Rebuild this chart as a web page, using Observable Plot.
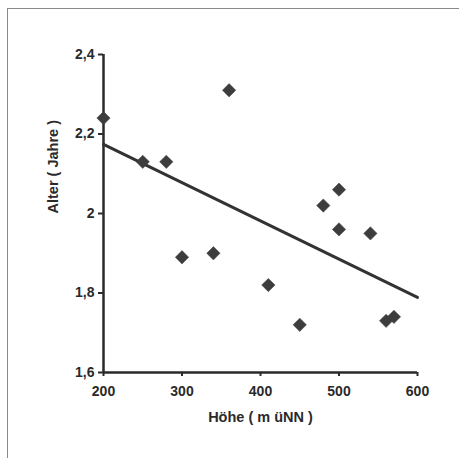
<!DOCTYPE html>
<html>
<head>
<meta charset="utf-8">
<script src="https://cdn.jsdelivr.net/npm/d3@7"></script>
<script src="https://cdn.jsdelivr.net/npm/@observablehq/plot@0.6"></script>
<style>
  html, body { margin: 0; padding: 0; background: #fff; }
  #wrap { position: relative; width: 459px; height: 458px; overflow: hidden; }
  #frame { position: absolute; left: 7px; top: 8px; width: 470px; height: 470px;
           border-top: 1.5px solid #8a8a8a; border-left: 1.5px solid #8a8a8a; }
  #chart { position: absolute; left: 0; top: 0; }
</style>
</head>
<body>
<div id="wrap"><div id="frame"></div><div id="chart"></div></div>
<script>
const hoehe = [200, 250, 280, 300, 340, 360, 410, 450, 480, 500, 500, 540, 560, 570];
const alter = [2.24, 2.13, 2.13, 1.89, 1.90, 2.31, 1.82, 1.72, 2.02, 2.06, 1.96, 1.95, 1.73, 1.74];
const trendX = [200, 600];
const trendY = [2.174, 1.789];
const xTicks = [200, 300, 400, 500, 600];
const yTicks = [1.6, 1.8, 2.0, 2.2, 2.4];
const xTitle = "Höhe ( m üNN )";
const yTitle = "Alter ( Jahre )";

const points = hoehe.map((h, i) => ({h, a: alter[i]}));
const trend = trendX.map((h, i) => ({h, a: trendY[i]}));
const fmt = d => String(d).replace(".", ",");

const chart = Plot.plot({
  width: 459,
  height: 458,
  marginLeft: 103,
  marginRight: 42,
  marginTop: 54,
  marginBottom: 86,
  style: {fontFamily: "'Liberation Sans', Arial, sans-serif", fontSize: "14px", fontWeight: "bold", color: "#2a2a2a", background: "transparent"},
  x: {domain: [200, 600], label: null},
  y: {domain: [1.6, 2.4], label: null},
  marks: [
    Plot.axisX({ticks: xTicks, tickFormat: d => String(d), tickSize: 4, tickPadding: 10, fontSize: 14, fontWeight: "bold", stroke: "#2a2a2a", strokeWidth: 2, label: null}),
    Plot.axisY({ticks: yTicks, tickFormat: fmt, tickSize: 5, tickPadding: 4, fontSize: 14, fontWeight: "bold", stroke: "#2a2a2a", strokeWidth: 2, label: null}),
    Plot.ruleY([1.6], {stroke: "#2a2a2a", strokeWidth: 2.5}),
    Plot.ruleX([200], {stroke: "#2a2a2a", strokeWidth: 2.5}),
    Plot.line(trend, {x: "h", y: "a", stroke: "#333", strokeWidth: 3}),
    Plot.dot(points, {x: "h", y: "a", symbol: "diamond2", r: 6, fill: "#3d3d3d", stroke: "#3d3d3d", strokeWidth: 0.5}),
    Plot.text([xTitle], {frameAnchor: "bottom", dy: 49, fontSize: 14.5, fontWeight: "bold", fill: "#2a2a2a"}),
    Plot.text([yTitle], {frameAnchor: "left", dx: -50, rotate: -90, fontSize: 14.5, fontWeight: "bold", fill: "#2a2a2a"})
  ]
});
document.getElementById("chart").appendChild(chart);
</script>
</body>
</html>
